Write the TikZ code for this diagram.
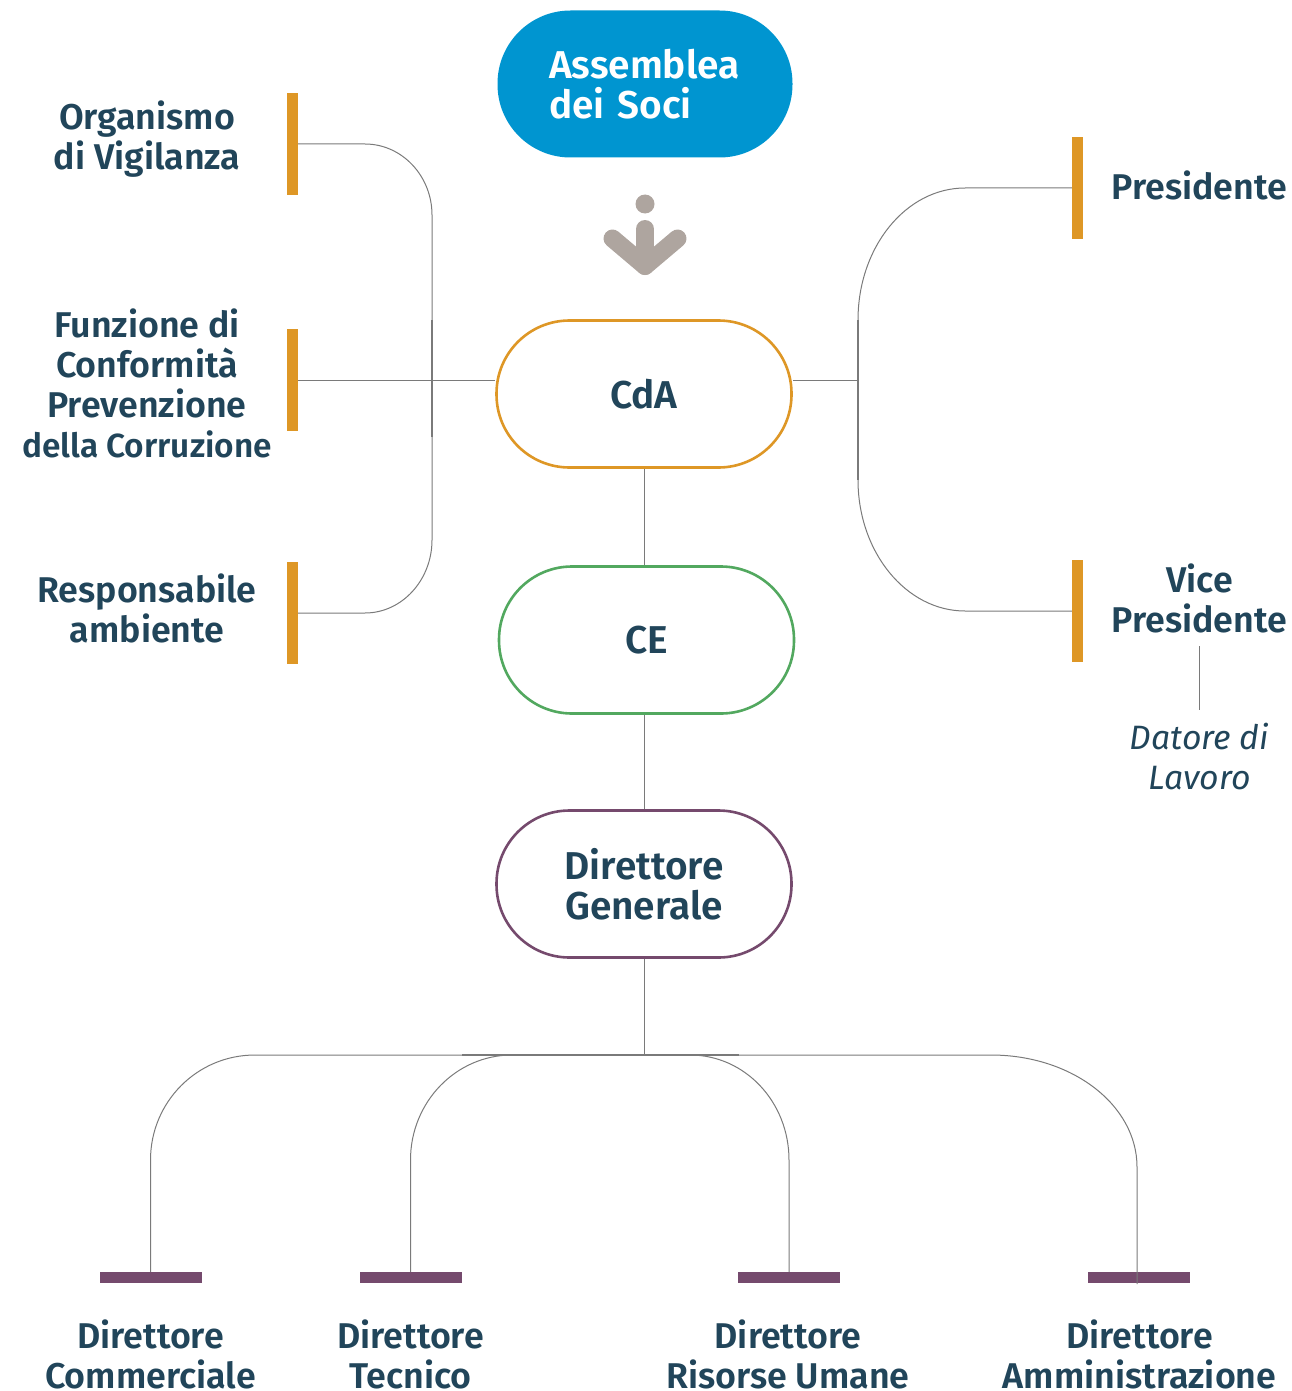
\documentclass[tikz,border=0pt]{standalone}
\usepackage{fontspec}
\setmainfont{Fira Sans SemiBold}[ItalicFont={Fira Sans Italic}]
\definecolor{ink}{HTML}{21455A}
\definecolor{azure}{HTML}{0095D0}
\definecolor{amber}{HTML}{DE9726}
\definecolor{leaf}{HTML}{52A85F}
\definecolor{plum}{HTML}{754A6D}
\definecolor{stone}{HTML}{AEA59F}
\definecolor{wire}{HTML}{7A7A7A}
\tikzset{
  lbl/.style={text=ink, align=center, inner sep=0, font=\fontsize{35.8}{40}\selectfont},
  pill/.style={rectangle, rounded corners=73, minimum width=295, minimum height=147, inner sep=0, fill=white, line width=2.6, lbl, font=\fontsize{38.8}{40}\selectfont},
  vbar/.style={rectangle, minimum width=11, minimum height=102, inner sep=0, fill=amber},
  hbar/.style={rectangle, minimum width=102, minimum height=11, inner sep=0, fill=plum},
  link/.style={draw=wire, line width=1},
}
\begin{document}
\begin{tikzpicture}[x=1pt, y=-1pt]
\useasboundingbox (0,0) rectangle (1291,1391);
% top pills
\node[pill, fill=azure, text=white, align=left, text width=192] (ads) at (645,84){Assemblea\\dei Soci};
\node[pill, draw=amber] (cda) at (644,394){CdA};
\node[pill, draw=leaf] (ce) at (646.5,640){CE};
\node[pill, draw=plum] (dg) at (644,884){Direttore\\Generale};
% down arrow
\fill[stone] (645,204) circle (9.5);
\draw[stone, line width=18, line cap=round, line join=round] (612.5,238.5) -- (645,266) -- (677.5,238.5);
\draw[stone, line width=18, line cap=round] (645,229) -- (645,266);
% left side
\node[vbar] (odv) at (292.5,144){};
\node[vbar] (fcpc) at (292.5,380){};
\node[vbar] (resp) at (292.5,613){};
\node[lbl] (todv) at (147,139.5){Organismo\\di Vigilanza};
\node[lbl] (tfcpc) at (147,383){Funzione di\\Conformità\\Prevenzione\\{\fontsize{33.4}{40}\selectfont della Corruzione}};
\node[lbl] (tresp) at (147,608){Responsabile\\ambiente};
% right side
\node[vbar] (pres) at (1077.5,188){};
\node[vbar] (vice) at (1077.5,611){};
\node[lbl] (tpres) at (1199.5,185){Presidente};
\node[lbl] (tvice) at (1199.5,598){Vice\\Presidente};
\node[lbl, font=\fontsize{33.8}{40}\selectfont\itshape] (tddl) at (1199.5,756.5){Datore di\\Lavoro};
% bottom row
\node[hbar] (dcom) at (150.5,1277.5){};
\node[hbar] (dtec) at (410.5,1277.5){};
\node[hbar] (drum) at (789,1277.5){};
\node[hbar] (damm) at (1139,1277.5){};
\node[lbl] (tdcom) at (150.5,1354){Direttore\\Commerciale};
\node[lbl] (tdtec) at (410.5,1354){Direttore\\Tecnico};
\node[lbl] (tdrum) at (788,1354){Direttore\\Risorse Umane};
\node[lbl] (tdamm) at (1139.5,1354){Direttore\\Amministrazione};
% free ends
\coordinate (lbus) at (432,380);
\coordinate (rbus) at (858,380);
\coordinate (dbus) at (644,1055);
\coordinate (ddlup) at (1199.5,646);
\coordinate (ddldown) at (1199.5,710);
\coordinate (dammend) at (1137,1284);
% connectors
\draw[link] (cda.south) -- (cda.south |- ce.north);
\draw[link] (dg.north) -- (dg.north |- ce.south);
\draw[link] (dg.south) -- (dbus);
\draw[link] (ddlup) -- (ddldown);
\draw[link] (fcpc.east) -- (cda.west |- fcpc.east);
\draw[link] (rbus) -- (cda.east |- rbus);
\draw[link] (odv.east) -- (365,144) .. controls (402,144) and (432,176) .. (432,215) -- (lbus);
\draw[link] (resp.east) -- (365,613) .. controls (402,613) and (432,580) .. (432,540) -- (lbus);
\draw[link, line width=1.4] (432,320) -- (lbus) -- (432,437);
\draw[link] (pres.west) -- (965,188) .. controls (906,188) and (858,247) .. (858,320) -- (rbus);
\draw[link] (vice.west) -- (965,611) .. controls (906,611) and (858,552) .. (858,480) -- (rbus);
\draw[link, line width=1.4] (858,320) -- (rbus) -- (858,480);
\draw[link] (dcom.north) -- (150.5,1160) .. controls (150.5,1102) and (197,1055) .. (255,1055) -- (dbus);
\draw[link] (dtec.north) -- (410.5,1160) .. controls (410.5,1102) and (456,1055) .. (512,1055) -- (dbus);
\draw[link] (drum.north) -- (789,1160) .. controls (789,1102) and (745,1055) .. (690,1055) -- (dbus);
\draw[link] (dammend) -- (1137,1167) .. controls (1137,1105) and (1072,1055) .. (991,1055) -- (dbus);
\draw[link, line width=1.4] (462,1055) -- (dbus) -- (739,1055);
\end{tikzpicture}
\end{document}
